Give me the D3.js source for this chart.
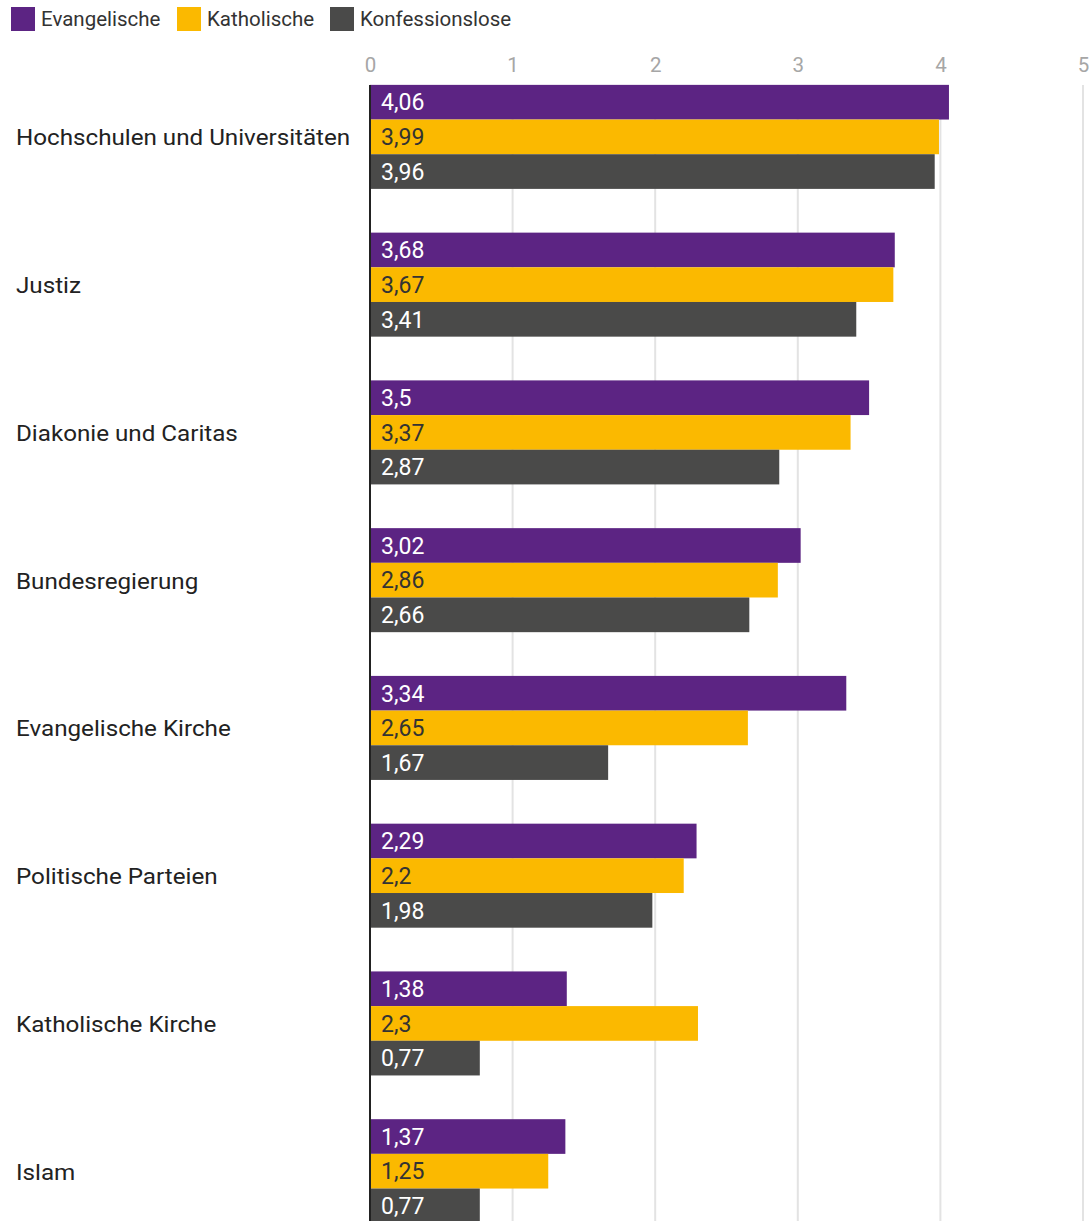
<!DOCTYPE html>
<html>
<head>
<meta charset="utf-8">
<script src="https://cdn.jsdelivr.net/npm/d3@7"></script>
<style>
  body { margin: 0; background: #fff; }
  text { font-family: Roboto, "Noto Sans", sans-serif; }
</style>
</head>
<body>
<div id="chart"></div>
<script>
const w = 1091;
const h = 1221;

const categories = [
  "Hochschulen und Universitäten",
  "Justiz",
  "Diakonie und Caritas",
  "Bundesregierung",
  "Evangelische Kirche",
  "Politische Parteien",
  "Katholische Kirche",
  "Islam"
];
const seriesNames = ["Evangelische", "Katholische", "Konfessionslose"];
const evangelische = [4.06, 3.68, 3.5, 3.02, 3.34, 2.29, 1.38, 1.37];
const katholische = [3.99, 3.67, 3.37, 2.86, 2.65, 2.2, 2.3, 1.25];
const konfessionslose = [3.96, 3.41, 2.87, 2.66, 1.67, 1.98, 0.77, 0.77];
const tickValues = [0, 1, 2, 3, 4, 5];

const colors = ["#5c2483", "#fbb900", "#4a4a49"];
const labelColors = ["#ffffff", "#333333", "#ffffff"];
const seriesValues = [evangelische, katholische, konfessionslose];

let svg = d3.select("#chart")
  .append("svg")
  .attr("width", w)
  .attr("height", h);

let x = d3.scaleLinear()
  .domain([0, 5])
  .range([370, 1083]);

let y = d3.scaleBand()
  .domain(categories)
  .range([63, 63 + 8 * 147.76])
  .paddingInner(0.296)
  .paddingOuter(0.148);

let yInner = d3.scaleBand()
  .domain(seriesNames)
  .range([0, y.bandwidth()]);

// gridlines
svg.append("g")
  .selectAll("line")
  .data(tickValues.slice(1))
  .join("line")
  .attr("x1", d => x(d))
  .attr("x2", d => x(d))
  .attr("y1", 85)
  .attr("y2", h)
  .attr("stroke", "#e3e3e3")
  .attr("stroke-width", 2);

// top tick labels
let axis = svg.append("g")
  .attr("transform", "translate(0,72)")
  .call(d3.axisTop(x).tickValues(tickValues).tickFormat(d3.format("d")).tickSize(0).tickPadding(0));
axis.select(".domain").remove();
axis.selectAll("text")
  .attr("font-size", 20.5)
  .attr("fill", "#a6a6a6")
  .attr("font-family", "Roboto, sans-serif")
  .attr("dy", 0);

// bars
let groups = svg.append("g")
  .selectAll("g")
  .data(categories)
  .join("g")
  .attr("transform", d => `translate(0,${y(d)})`);

groups.selectAll("rect")
  .data((d, i) => seriesNames.map((s, j) => ({ s: s, v: seriesValues[j][i], j: j })))
  .join("rect")
  .attr("x", x(0))
  .attr("y", d => yInner(d.s))
  .attr("width", d => x(d.v) - x(0))
  .attr("height", yInner.bandwidth())
  .attr("fill", d => colors[d.j]);

groups.selectAll("text.val")
  .data((d, i) => seriesNames.map((s, j) => ({ s: s, v: seriesValues[j][i], j: j })))
  .join("text")
  .attr("class", "val")
  .attr("x", x(0) + 11)
  .attr("y", d => yInner(d.s) + yInner.bandwidth() / 2)
  .attr("dy", "0.36em")
  .attr("font-size", 23)
  .attr("fill", d => labelColors[d.j])
  .text(d => String(d.v).replace(".", ","));

// category labels (slightly widened like the source)
groups.append("text")
  .attr("transform", `translate(16,${y.bandwidth() / 2}) scale(1.1,1)`)
  .attr("dy", "0.38em")
  .attr("font-size", 22)
  .attr("fill", "#222")
  .text(d => d);

// zero axis line
svg.append("line")
  .attr("x1", x(0))
  .attr("x2", x(0))
  .attr("y1", 85)
  .attr("y2", h)
  .attr("stroke", "#222")
  .attr("stroke-width", 2);

// legend
let legendX = [11, 177, 330];
let legend = svg.append("g")
  .selectAll("g")
  .data(seriesNames)
  .join("g")
  .attr("transform", (d, i) => `translate(${legendX[i]},7)`);

legend.append("rect")
  .attr("width", 24)
  .attr("height", 24)
  .attr("fill", (d, i) => colors[i]);

legend.append("text")
  .attr("x", 30)
  .attr("y", 12)
  .attr("dy", "0.36em")
  .attr("font-size", 20.5)
  .attr("fill", "#333")
  .text(d => d);
</script>
</body>
</html>
